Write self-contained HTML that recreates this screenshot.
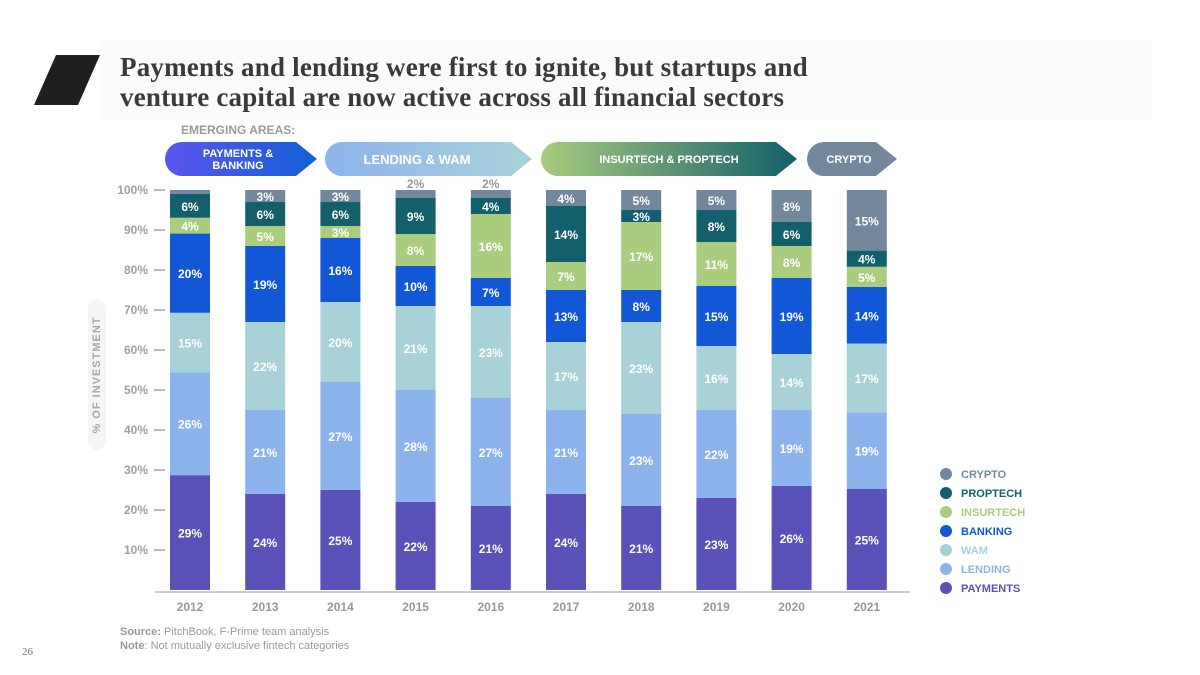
<!DOCTYPE html>
<html><head><meta charset="utf-8"><style>
body{margin:0;width:1200px;height:675px;background:#fff;overflow:hidden;position:relative;font-family:"Liberation Sans",sans-serif}
.t{position:absolute}
</style></head><body>
<div class="t" style="left:100px;top:40px;width:1052px;height:80px;background:#fbfbfb"></div>
<svg class="t" style="left:34px;top:55px" width="66" height="50"><polygon points="22,0 66,0 44,50 0,50" fill="#1f1f1f"/></svg>
<div class="t" style="left:120px;top:52px;font-family:'Liberation Serif',serif;font-weight:bold;font-size:27px;line-height:30px;letter-spacing:0.2px;color:#3a3a3a">Payments and lending were first to ignite, but startups and<br>venture capital are now active across all financial sectors</div>
<div class="t" style="left:181px;top:123px;font-size:12px;font-weight:bold;color:#9a9a9a">EMERGING AREAS:</div>
<svg class="t" style="left:0;top:0" width="1200" height="200">
<defs>
<linearGradient id="g1"><stop offset="0" stop-color="#5b55ee"/><stop offset="1" stop-color="#1460d8"/></linearGradient>
<linearGradient id="g2"><stop offset="0" stop-color="#8db3ec"/><stop offset="1" stop-color="#a8d3d9"/></linearGradient>
<linearGradient id="g3"><stop offset="0" stop-color="#a9cc7e"/><stop offset="1" stop-color="#135f6b"/></linearGradient>
</defs>
<path d="M182,142 H296 L317,159 L296,176 H182 A17,17 0 0 1 182,142Z" fill="url(#g1)"/>
<text x="238" y="157" text-anchor="middle" font-size="11" font-weight="bold" fill="#fff">PAYMENTS &amp;</text>
<text x="238" y="169" text-anchor="middle" font-size="11" font-weight="bold" fill="#fff">BANKING</text>
<path d="M342,142 H511 L532,159 L511,176 H342 A17,17 0 0 1 342,142Z" fill="url(#g2)"/>
<text x="417" y="164" text-anchor="middle" font-size="13" font-weight="bold" fill="#fff">LENDING &amp; WAM</text>
<path d="M558,142 H776 L797,159 L776,176 H558 A17,17 0 0 1 558,142Z" fill="url(#g3)"/>
<text x="669" y="163" text-anchor="middle" font-size="11" font-weight="bold" fill="#fff">INSURTECH &amp; PROPTECH</text>
<path d="M824,142 H876 L897,159 L876,176 H824 A17,17 0 0 1 824,142Z" fill="#73879d"/>
<text x="849" y="163" text-anchor="middle" font-size="11" font-weight="bold" fill="#fff">CRYPTO</text>
</svg>
<div class="t" style="left:88px;top:300px;width:18px;height:150px;background:#f5f5f5;border-radius:9px"></div>
<div class="t" style="left:97px;top:375px;transform:translate(-50%,-50%) rotate(-90deg);font-size:11px;font-weight:bold;letter-spacing:1px;color:#a8a8a8;white-space:nowrap">% OF INVESTMENT</div>
<svg id="chart" class="t" style="left:0;top:0" width="1200" height="675"></svg>
<div class="t" style="left:120px;top:625px;font-size:11px;line-height:14px;color:#9a9a9a"><b>Source:</b> PitchBook, F-Prime team analysis<br><b>Note</b>: Not mutually exclusive fintech categories</div>
<div class="t" style="left:22px;top:646px;font-family:'Liberation Serif',serif;font-size:11px;color:#777">26</div>
<script>
const years=["2012","2013","2014","2015","2016","2017","2018","2019","2020","2021"];
const seriesNames=["PAYMENTS","LENDING","WAM","BANKING","INSURTECH","PROPTECH","CRYPTO"];
const payments=[29,24,25,22,21,24,21,23,26,25];
const lending=[26,21,27,28,27,21,23,22,19,19];
const wam=[15,22,20,21,23,17,23,16,14,17];
const banking=[20,19,16,10,7,13,8,15,19,14];
const insurtech=[4,5,3,8,16,7,17,11,8,5];
const proptech=[6,6,6,9,4,14,3,8,6,4];
const crypto=[1,3,3,2,2,4,5,5,8,15];
const yTicks=[10,20,30,40,50,60,70,80,90,100];
const colors=["#5a52b8","#8db3ec","#a8d1d8","#1257d6","#a9cc7e","#135f6b","#73879d"];
const series=[payments,lending,wam,banking,insurtech,proptech,crypto];
const NS="http://www.w3.org/2000/svg";
const svg=document.getElementById('chart');
const y0=590,yPer=4.0,x0=190,step=75.2,bw=40;
const Y=v=>y0-v*yPer, X=i=>x0+i*step;
function mk(t,a,p){const e=document.createElementNS(NS,t);for(const k in a)e.setAttribute(k,a[k]);(p||svg).appendChild(e);return e;}
yTicks.forEach(t=>{
  const tx=mk('text',{x:148,y:Y(t)+4,'text-anchor':'end','font-size':12,'font-weight':'bold',fill:'#a0a0a0'});
  
  
  tx.textContent=t+'%';
  const l=mk('line',{x1:154,x2:165,y1:Y(t),y2:Y(t),stroke:'#bbb','stroke-width':2});
  
  
});
const base=mk('line',{x1:155,x2:910,y1:y0+2,y2:y0+2,stroke:'#ccc','stroke-width':2});


years.forEach((yr,i)=>{
  let total=0;series.forEach(s=>total+=s[i]);
  const sc=100/total;
  let acc=0;
  series.forEach((s,k)=>{
    const raw=s[i], v=raw*sc;
    const r=mk('rect',{x:X(i)-bw/2,y:Y(acc+v),width:bw,height:v*yPer,fill:colors[k]});
    
    
    if(raw>=2){
      const ly=raw<=2?Y(acc+v)-2:Y(acc+v/2)+5;
      const t=mk('text',{x:X(i),y:ly,'text-anchor':'middle','font-size':12,'font-weight':'bold',fill:raw<=2?'#999':'#fff'});
      
      
      t.textContent=raw+'%';
    }
    acc+=v;
  });
  const xl=mk('text',{x:X(i),y:611,'text-anchor':'middle','font-size':12,'font-weight':'bold',fill:'#999'});
  
  
  xl.textContent=yr;
});
for(let k=6;k>=0;k--){
  const yy=474+(6-k)*19;
  const c=mk('circle',{cx:946,cy:yy,r:6,fill:colors[k]});
  
  
  const t=mk('text',{x:961,y:yy+4,'font-size':11,'font-weight':'bold',fill:colors[k]});
  
  
  t.textContent=seriesNames[k];
}
</script>
</body></html>
